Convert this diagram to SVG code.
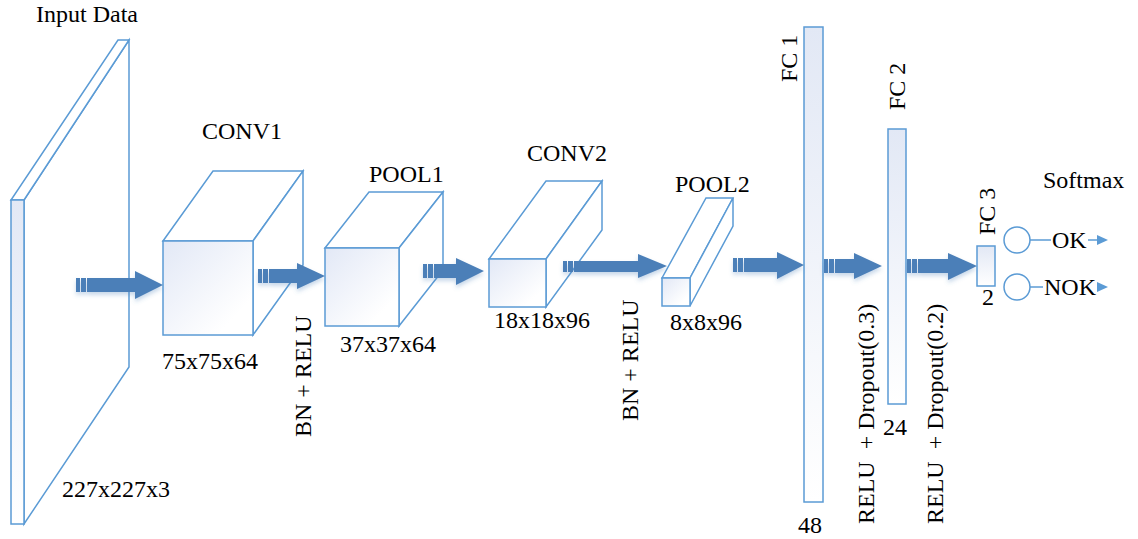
<svg xmlns="http://www.w3.org/2000/svg" width="1138" height="539" viewBox="0 0 1138 539">
  <style>
    .edge { stroke: #5b9bd5; stroke-width: 1.5; stroke-linejoin: miter; }
    .side { fill: #ffffff; }
    .front { fill: url(#faceGrad); }
    .bar { fill: url(#barGrad); }
    .arr { fill: #4b7fb8; }
    .tip { fill: #5b9bd5; }
    .lbl { font-family: "Liberation Serif", "Times New Roman", serif; font-size: 24px; fill: #000000; }
    .vlbl { font-family: "Liberation Serif", "Times New Roman", serif; font-size: 24px; fill: #000000; white-space: pre; }
  </style>
  <defs>
    <linearGradient id="faceGrad" x1="0" y1="0" x2="1" y2="1">
      <stop offset="0" stop-color="#e2e8f6"/>
      <stop offset="0.8" stop-color="#ffffff"/>
      <stop offset="1" stop-color="#ffffff"/>
    </linearGradient>
    <linearGradient id="barGrad" x1="0" y1="0" x2="0" y2="1">
      <stop offset="0" stop-color="#e2e8f5"/>
      <stop offset="1" stop-color="#ffffff"/>
    </linearGradient>
    <filter id="glow" x="-20%" y="-50%" width="140%" height="220%">
      <feDropShadow dx="0" dy="3" stdDeviation="2" flood-color="#4b7fb8" flood-opacity="0.3"/>
    </filter>
  </defs>

  <!-- Input slab -->
  <g id="input">
    <polygon class="edge side" points="24,200 129,40 129,367 24,524"/>
    <polygon class="edge side" points="11,200 24,200 129,40 118,40"/>
    <rect class="edge bar" x="11" y="200" width="13" height="324"/>
    <text class="lbl" x="36" y="22">Input Data</text>
    <text class="lbl" x="62" y="497">227x227x3</text>
  </g>

  <!-- CONV1 block -->
  <g id="conv1">
    <polygon class="edge side" points="163,241 213,171 303,171 253,241"/>
    <polygon class="edge side" points="253,241 303,171 303,265 253,335"/>
    <rect class="edge front" x="163" y="241" width="90" height="94"/>
    <text class="lbl" x="202" y="139">CONV1</text>
    <text class="lbl" x="162" y="369">75x75x64</text>
  </g>

  <!-- POOL1 block -->
  <g id="pool1">
    <polygon class="edge side" points="325,248 369,192 443,192 399,248"/>
    <polygon class="edge side" points="399,248 443,192 443,270 399,326"/>
    <rect class="edge front" x="325" y="248" width="74" height="78"/>
    <text class="lbl" x="369" y="182">POOL1</text>
    <text class="lbl" x="340" y="352">37x37x64</text>
  </g>

  <!-- CONV2 block -->
  <g id="conv2">
    <polygon class="edge side" points="489,259 546,181 602,181 546,259"/>
    <polygon class="edge side" points="546,259 602,181 602,230 546,307"/>
    <rect class="edge front" x="489" y="259" width="57" height="48"/>
    <text class="lbl" x="527" y="161">CONV2</text>
    <text class="lbl" x="494" y="328">18x18x96</text>
  </g>

  <!-- POOL2 block -->
  <g id="pool2">
    <polygon class="edge side" points="662,278 706,198 733,198 690,278"/>
    <polygon class="edge side" points="690,278 733,198 733,226 690,306"/>
    <rect class="edge front" x="662" y="278" width="28" height="28"/>
    <text class="lbl" x="675" y="192">POOL2</text>
    <text class="lbl" x="670" y="330">8x8x96</text>
  </g>

  <!-- Fully connected layers -->
  <g id="fc1">
    <rect class="edge bar" x="804" y="27" width="19" height="475"/>
    <text class="vlbl" transform="translate(797,82) rotate(-90)">FC 1</text>
    <text class="lbl" x="798" y="533">48</text>
  </g>
  <g id="fc2">
    <rect class="edge bar" x="888" y="129" width="18" height="275"/>
    <text class="vlbl" transform="translate(905,110) rotate(-90)">FC 2</text>
    <text class="lbl" x="883" y="435">24</text>
  </g>
  <g id="fc3">
    <rect class="edge bar" x="977" y="246" width="18" height="40"/>
    <text class="vlbl" transform="translate(995,235) rotate(-90)">FC 3</text>
    <text class="lbl" x="982" y="305">2</text>
  </g>

  <!-- Softmax outputs -->
  <g id="softmax">
    <text class="lbl" x="1043" y="188">Softmax</text>
  </g>
  <g id="out-ok">
    <circle class="edge side" cx="1017" cy="240" r="13"/>
    <text class="lbl" x="1052" y="248">OK</text>
  </g>
  <g id="out-nok">
    <circle class="edge side" cx="1017" cy="287" r="13"/>
    <text class="lbl" x="1044" y="295">NOK</text>
  </g>

  <!-- Operation labels -->
  <g id="ops">
    <text class="vlbl" transform="translate(311,437) rotate(-90)">BN + RELU</text>
    <text class="vlbl" transform="translate(638,421) rotate(-90)">BN + RELU</text>
    <text class="vlbl" transform="translate(874,524) rotate(-90)">RELU  + Dropout(0.3)</text>
    <text class="vlbl" transform="translate(943,524) rotate(-90)">RELU  + Dropout(0.2)</text>
  </g>

  <!-- Connectors -->
  <g id="connectors">
    <g class="arr" filter="url(#glow)">
      <rect x="76" y="278" width="4" height="14"/><rect x="81" y="278" width="5" height="14"/>
      <path d="M87,278 H135 V271 L163,285 L135,299 V292 H87 Z"/>
    </g>
    <g class="arr" filter="url(#glow)">
      <rect x="258" y="269" width="4" height="14"/><rect x="263" y="269" width="5" height="14"/>
      <path d="M269,269 H297 V263 L325,276 L297,289 V283 H269 Z"/>
    </g>
    <g class="arr" filter="url(#glow)">
      <rect x="423" y="264" width="4" height="14"/><rect x="428" y="264" width="5" height="14"/>
      <path d="M434,264 H456 V258 L484,271 L456,285 V278 H434 Z"/>
    </g>
    <g class="arr" filter="url(#glow)">
      <rect x="563" y="261" width="4" height="11"/><rect x="568" y="261" width="5" height="11"/>
      <path d="M574,261 H638 V254 L667,266 L638,278 V272 H574 Z"/>
    </g>
    <g class="arr" filter="url(#glow)">
      <rect x="733" y="258" width="4" height="14"/><rect x="738" y="258" width="5" height="14"/>
      <path d="M744,258 H777 V252 L804,265 L777,279 V272 H744 Z"/>
    </g>
    <g class="arr" filter="url(#glow)">
      <rect x="824" y="259" width="4" height="14"/><rect x="829" y="259" width="5" height="14"/>
      <path d="M835,259 H854 V253 L882,266 L854,279 V273 H835 Z"/>
    </g>
    <g class="arr" filter="url(#glow)">
      <rect x="907" y="259" width="4" height="14"/><rect x="912" y="259" width="5" height="14"/>
      <path d="M918,259 H948 V253 L977,266 L948,280 V273 H918 Z"/>
    </g>
    <line class="edge" x1="1030" y1="240" x2="1051" y2="240"/>
    <line class="edge" x1="1030" y1="287" x2="1043" y2="287"/>
    <line class="edge" x1="1088" y1="240" x2="1098" y2="240"/>
    <polygon class="tip" points="1097,235 1108,240 1097,245"/>
    <polygon class="tip" points="1097,282 1108,287 1097,292"/>
  </g>
</svg>
